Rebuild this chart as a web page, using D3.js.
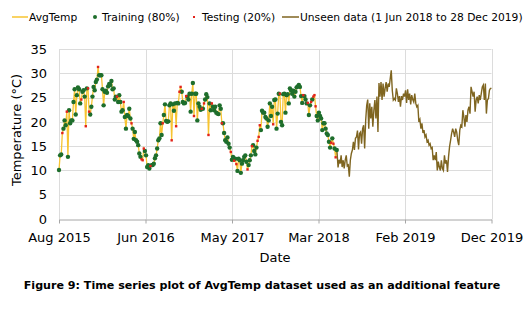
<!DOCTYPE html>
<html>
<head>
<meta charset="utf-8">
<script src="https://cdnjs.cloudflare.com/ajax/libs/d3/7.8.5/d3.min.js"></script>
<style>
  body { margin: 0; background: #fff; }
  text { font-family: "DejaVu Sans", sans-serif; fill: #000; }
</style>
</head>
<body>
<div class="canvas"></div>
<script>
// readings from 1 Aug 2015 to 31 May 2018 (training + testing), in order
const avgTemp = [
  10.1,13.1,13.3,17.7,18.6,20.3,19.3,22.1,12.8,22.4,
  19.7,20.3,20.3,24.1,26.7,21.5,25.5,27.1,26.7,23.8,
  24.6,26.2,26.5,25.2,19.1,26.9,26.9,22.1,21.5,23.1,
  25.2,27.2,26.5,28.2,28.7,31.3,29.6,29.6,29.6,26.7,
  23.4,26.2,26.4,26.0,27.3,27.8,27.6,28.4,26.7,26.9,
  24.6,25.2,25.2,24.1,25.5,24.1,22.1,22.4,24.1,21.0,
  18.6,21.4,21.2,22.7,20.7,19.7,18.6,16.5,17.9,16.2,
  15.9,15.2,13.5,12.8,12.3,12.1,14.5,14.0,13.1,10.7,
  11.1,10.4,10.9,11.1,11.1,11.4,12.5,13.1,14.5,16.2,
  16.6,19.7,17.3,19.7,21.4,23.6,20.2,20.0,20.1,23.4,
  23.8,16.2,23.6,22.3,23.8,19.1,23.9,23.8,26.2,27.2,
  26.2,24.1,23.8,23.9,25.3,25.2,24.6,25.8,22.1,25.8,
  28.0,21.2,25.8,25.8,20.3,23.8,23.1,22.5,22.7,22.7,
  23.8,24.6,25.7,25.1,17.3,23.8,22.4,23.8,23.1,22.4,
  23.1,21.9,21.7,21.6,23.4,22.7,19.7,19.7,17.7,16.2,
  15.9,16.8,15.5,14.7,13.8,12.2,12.8,12.0,12.4,11.3,
  9.9,12.4,12.1,9.5,11.4,12.1,12.8,13.1,11.8,10.2,
  11.1,12.1,13.1,15.0,15.2,14.0,13.3,14.7,16.1,16.9,
  19.3,18.3,22.3,21.9,21.9,21.0,20.7,19.0,20.3,23.8,
  21.2,23.1,19.5,24.5,24.6,18.6,21.7,25.8,25.8,20.0,
  19.3,25.7,25.8,21.9,25.5,25.7,23.8,26.9,26.5,25.8,
  26.4,25.2,26.2,27.1,27.3,27.6,27.2,25.3,23.9,25.5,
  25.3,24.6,23.8,23.9,21.4,23.4,24.1,24.6,25.2,25.5,
  23.2,21.2,20.3,21.9,21.2,20.7,18.3,19.7,19.7,18.6,
  17.6,17.3,15.9,14.7,15.7,16.6,15.5,14.5,12.7,14.2
];
// positions in avgTemp that belong to the testing set
const testIdx = [3,7,20,24,26,27,35,52,58,65,74,75,76,82,93,101,105,108,109,114,
  121,128,130,134,137,146,154,157,159,169,173,178,179,180,192,198,219,223,226,228,
  229,230,244,246,248];
// unseen readings, 1 Jun 2018 to 28 Dec 2019
const unseenTemp = [
  13.8,10.6,12.2,11.4,13.1,10.7,12.1,10.4,12.1,13.1,
  10.9,11.1,8.7,12.1,13.5,14.2,15.9,14.2,16.6,16.9,
  18.2,14.3,17.6,17.9,15.5,18.6,19.3,14.5,20.3,23.4,
  24.6,18.6,23.8,20.7,23.1,19.0,22.4,24.5,20.7,25.2,
  17.9,28.0,25.2,28.2,24.5,27.9,25.2,26.9,28.2,26.2,
  27.9,27.2,28.9,30.6,26.5,24.5,24.8,24.5,26.9,25.8,
  24.1,25.3,23.1,25.3,24.5,25.8,25.2,26.5,23.9,26.7,
  24.5,25.8,23.6,25.5,24.6,24.1,25.8,23.8,23.1,23.4,
  20.0,20.5,18.6,19.7,17.7,18.3,16.9,17.3,15.9,16.2,
  15.2,15.5,14.5,14.7,12.1,13.1,12.1,13.8,10.0,11.8,
  10.7,10.0,12.1,10.4,10.0,13.1,11.4,12.1,9.7,12.8,
  14.9,16.2,17.6,18.6,17.9,16.9,18.6,17.9,16.2,15.2,
  18.3,19.3,19.0,22.4,21.0,19.0,21.4,20.0,22.4,23.1,
  21.7,27.2,26.2,25.2,26.2,22.1,24.5,25.2,23.8,25.5,
  24.5,25.8,27.2,27.6,24.5,27.9,21.7,24.5,24.8,26.5,
  26.9,26.9
];
const seenRange = ['2015-08-01', '2018-05-31'];
const unseenRange = ['2018-06-01', '2019-12-28'];
const yTicks = [0, 5, 10, 15, 20, 25, 30, 35];
const xTickDates = ['2015-08-01', '2016-06-18', '2017-05-06', '2018-03-24', '2019-02-09', '2019-12-28'];
const legendLabels = ['AvgTemp', 'Training (80%)', 'Testing (20%)', 'Unseen data (1 Jun 2018 to 28 Dec 2019)'];

const dims = {width: 528, height: 310};
const plot = {left: 59, right: 491.5, top: 49, bottom: 219};
const colors = {avg: '#F7C431', train: '#1E6E2C', test: '#E2231A', unseen: '#7F6520', grid: '#DCDCDC', axis: '#A6A6A6'};

const parse = d3.timeParse('%Y-%m-%d');

// readings are evenly spaced over their date range
const spread = (vals, range) => {
    const t0 = parse(range[0]), t1 = parse(range[1]);
    const step = (t1 - t0) / (vals.length - 1);
    return vals.map((v, i) => ({date: new Date(+t0 + i * step), temp: v, test: testIdx.includes(i)}));
};
const seen = spread(avgTemp, seenRange);
const unseen = spread(unseenTemp, unseenRange).map(d => ({...d, test: false}));

const svg = d3.select('.canvas').append('svg')
    .attr('width', dims.width).attr('height', dims.height);

const x = d3.scaleTime()
    .domain([parse(xTickDates[0]), parse(xTickDates[xTickDates.length - 1])])
    .range([plot.left, plot.right]);
const y = d3.scaleLinear().domain([0, 35]).range([plot.bottom, plot.top]);

// gridlines
svg.append('g').selectAll('line.h').data(yTicks.slice(1)).enter().append('line')
    .attr('x1', plot.left).attr('x2', plot.right)
    .attr('y1', d => Math.round(y(d)) + 0.5).attr('y2', d => Math.round(y(d)) + 0.5)
    .attr('stroke', colors.grid).attr('stroke-width', 1);
svg.append('g').selectAll('line.v').data(xTickDates).enter().append('line')
    .attr('x1', d => Math.round(x(parse(d))) + 0.5).attr('x2', d => Math.round(x(parse(d))) + 0.5)
    .attr('y1', plot.top).attr('y2', plot.bottom)
    .attr('stroke', colors.grid).attr('stroke-width', 1);

// axes
const xAxis = svg.append('g')
    .attr('transform', `translate(0,${Math.round(y(0)) + 0.5})`)
    .call(d3.axisBottom(x)
        .tickValues(xTickDates.map(parse))
        .tickFormat(d3.timeFormat('%b %Y'))
        .tickSize(4).tickSizeOuter(0).tickPadding(9));
xAxis.select('.domain').attr('stroke', colors.axis);
xAxis.selectAll('.tick line').attr('stroke', colors.axis);
xAxis.selectAll('text').attr('font-size', 13).attr('font-family', '"DejaVu Sans", sans-serif').attr('fill', '#000');

const yAxis = svg.append('g')
    .attr('transform', `translate(${plot.left},0)`)
    .call(d3.axisLeft(y).tickValues(yTicks).tickSize(0).tickPadding(12));
yAxis.select('.domain').remove();
yAxis.selectAll('text').attr('font-size', 13).attr('font-family', '"DejaVu Sans", sans-serif').attr('fill', '#000');

// series
const line = d3.line().x(d => x(d.date)).y(d => y(d.temp));

svg.append('path').datum(seen)
    .attr('d', line).attr('fill', 'none')
    .attr('stroke', colors.avg).attr('stroke-width', 1.3);

svg.append('g').selectAll('circle').data(seen.filter(d => !d.test)).enter().append('circle')
    .attr('cx', d => x(d.date)).attr('cy', d => y(d.temp)).attr('r', 2.2)
    .attr('fill', colors.train);

svg.append('g').selectAll('rect').data(seen.filter(d => d.test)).enter().append('rect')
    .attr('x', d => x(d.date) - 1.2).attr('y', d => y(d.temp) - 1.2)
    .attr('width', 2.4).attr('height', 2.4)
    .attr('fill', colors.test);

svg.append('path').datum(unseen)
    .attr('d', line).attr('fill', 'none')
    .attr('stroke', colors.unseen).attr('stroke-width', 1.4);

// axis titles
svg.append('text').text('Date')
    .attr('x', 275).attr('y', 262).attr('text-anchor', 'middle').attr('font-size', 13);
svg.append('text').text('Temperature (°C)')
    .attr('transform', `translate(21,${(plot.top + plot.bottom) / 2 - 4}) rotate(-90)`)
    .attr('text-anchor', 'middle').attr('font-size', 13);

// legend
const legend = svg.append('g').attr('font-size', 10.7);
const ly = 17;
legend.append('line').attr('x1', 12).attr('x2', 28).attr('y1', ly).attr('y2', ly)
    .attr('stroke', colors.avg).attr('stroke-width', 1.5);
legend.append('text').text(legendLabels[0]).attr('x', 29).attr('y', ly + 4);
legend.append('circle').attr('cx', 95).attr('cy', ly).attr('r', 2).attr('fill', colors.train);
legend.append('text').text(legendLabels[1]).attr('x', 102).attr('y', ly + 4);
legend.append('rect').attr('x', 193).attr('y', ly - 1).attr('width', 2).attr('height', 2).attr('fill', colors.test);
legend.append('text').text(legendLabels[2]).attr('x', 202).attr('y', ly + 4);
legend.append('line').attr('x1', 282).attr('x2', 299).attr('y1', ly).attr('y2', ly)
    .attr('stroke', colors.unseen).attr('stroke-width', 1.5);
legend.append('text').text(legendLabels[3]).attr('x', 300).attr('y', ly + 4);

// caption
svg.append('text').text('Figure 9: Time series plot of AvgTemp dataset used as an additional feature')
    .attr('x', 262).attr('y', 289).attr('text-anchor', 'middle')
    .attr('font-size', 11.1).attr('font-weight', 'bold');
</script>
</body>
</html>
